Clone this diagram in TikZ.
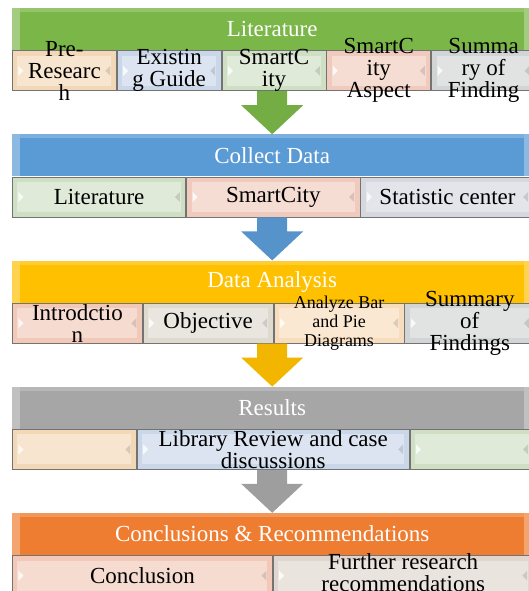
\documentclass[tikz,border=0pt]{standalone}
\usepackage{fontspec}
\setmainfont{Liberation Serif}[Ligatures=TeX]
\newfontfamily\timesfont{Liberation Serif}
\usetikzlibrary{positioning, calc}

\definecolor{green1}{HTML}{7AB648}
\definecolor{blue1}{HTML}{5B9BD5}
\definecolor{gold1}{HTML}{FFC000}
\definecolor{gray1}{HTML}{A6A6A6}
\definecolor{orange1}{HTML}{EE7D31}
\definecolor{peach}{HTML}{F3D8B8}
\definecolor{sky}{HTML}{C9D7E8}
\definecolor{mint}{HTML}{CFDFC4}
\definecolor{rose}{HTML}{F0CBBD}
\definecolor{silver}{HTML}{D2D5D5}
\definecolor{lilac}{HTML}{D6D8E0}
\definecolor{sand}{HTML}{DEDAD0}
\definecolor{apricot}{HTML}{F8DDBC}
\definecolor{blush}{HTML}{F2C9B9}
\definecolor{stone}{HTML}{E0D6CF}

\tikzstyle{header} = [rectangle, minimum width=520pt, minimum height=42pt, inner sep=0pt, text centered, text=white, font=\timesfont\fontsize{23}{22}\selectfont, path picture={
  \fill[white, opacity=0.3] (path picture bounding box.south west) rectangle ([xshift=8pt]path picture bounding box.north west);
  \fill[white, opacity=0.3] ([xshift=-8pt]path picture bounding box.south east) rectangle (path picture bounding box.north east);
  \fill[white, opacity=0.2] ([xshift=8pt,yshift=-4pt]path picture bounding box.north west) rectangle ([xshift=-8pt]path picture bounding box.north east);
}]
\tikzstyle{item} = [rectangle, minimum height=40pt, inner sep=0pt, draw=black!55, line width=0.8pt, path picture={
  \fill[white, opacity=0.35] ([shift={(5pt,5pt)}]path picture bounding box.south west) rectangle ([shift={(-5pt,-5pt)}]path picture bounding box.north east);
  \fill[white, opacity=0.8] ([xshift=6pt,yshift=5pt]path picture bounding box.west) -- ++(5pt,-5pt) -- ++(-5pt,-5pt) -- cycle;
  \fill[black, opacity=0.12] ([xshift=-6pt,yshift=5pt]path picture bounding box.east) -- ++(-5pt,-5pt) -- ++(5pt,-5pt) -- cycle;
}]
\tikzstyle{itemtext} = [align=center, inner sep=0pt, font=\timesfont\fontsize{23}{22}\selectfont]
\tikzstyle{smalltext} = [align=center, inner sep=0pt, font=\timesfont\fontsize{18}{19}\selectfont]
\tikzset{arrowshade/.style={left color=#1!95!black, middle color=#1!50!white, right color=#1!95!black}}

\begin{document}
\begin{tikzpicture}[x=1pt, y=1pt]
\useasboundingbox (0,0) rectangle (529,-591);
\clip (0,0) rectangle (529,-591);

%%%%% ADDING MAIN BLOCKS
\node (lit) [header, fill=green1, anchor=north west] at (12,-8) {Literature};
\node (lit1) [item, fill=peach, minimum width=104pt, below=0pt of lit.south west, anchor=north west] {};
\node (lit2) [item, fill=sky, minimum width=104pt, right=0pt of lit1] {};
\node (lit3) [item, fill=mint, minimum width=104pt, right=0pt of lit2] {};
\node (lit4) [item, fill=rose, minimum width=104pt, right=0pt of lit3] {};
\node (lit5) [item, fill=silver, minimum width=104pt, right=0pt of lit4] {};

\node (col) [header, fill=blue1, below=43pt of lit1.south west, anchor=north west] {Collect Data};
\node (col1) [item, fill=mint, minimum width=173.4pt, below=0pt of col.south west, anchor=north west] {};
\node (col2) [item, fill=rose, minimum width=173.4pt, right=0pt of col1] {};
\node (col3) [item, fill=lilac, minimum width=173.4pt, right=0pt of col2] {};

\node (ana) [header, fill=gold1, below=43pt of col1.south west, anchor=north west] {Data Analysis};
\node (ana1) [item, fill=blush, minimum width=130pt, below=0pt of ana.south west, anchor=north west] {};
\node (ana2) [item, fill=sand, minimum width=130pt, right=0pt of ana1] {};
\node (ana3) [item, fill=apricot, minimum width=130pt, right=0pt of ana2] {};
\node (ana4) [item, fill=silver, minimum width=130pt, right=0pt of ana3] {};

\node (res) [header, fill=gray1, below=43pt of ana1.south west, anchor=north west] {Results};
\node (res1) [item, fill=peach, minimum width=124pt, below=0pt of res.south west, anchor=north west] {};
\node (res2) [item, fill=sky, minimum width=272pt, right=0pt of res1] {};
\node (res3) [item, fill=mint, minimum width=124pt, right=0pt of res2] {};

\node (con) [header, fill=orange1, below=43pt of res1.south west, anchor=north west] {Conclusions \& Recommendations};
\node (con1) [item, fill=blush, minimum width=260pt, below=0pt of con.south west, anchor=north west] {};
\node (con2) [item, fill=stone, minimum width=260pt, right=0pt of con1] {};

%%%%% ADDING ARROWS
% block arrow from the middle of one row down to the next header
\shade[arrowshade=green1] let \p1=(lit.south |- lit1.south), \p2=(col.north) in
  (\x1-15pt,\y1) -- (\x1+15pt,\y1) -- (\x1+15pt,\y2+29pt) -- (\x1+31pt,\y2+29pt) -- (\x2,\y2) -- (\x1-31pt,\y2+29pt) -- (\x1-15pt,\y2+29pt) -- cycle;
\shade[arrowshade=blue1] let \p1=(col.south |- col1.south), \p2=(ana.north) in
  (\x1-15pt,\y1) -- (\x1+15pt,\y1) -- (\x1+15pt,\y2+29pt) -- (\x1+31pt,\y2+29pt) -- (\x2,\y2) -- (\x1-31pt,\y2+29pt) -- (\x1-15pt,\y2+29pt) -- cycle;
\shade[arrowshade=gold1] let \p1=(ana.south |- ana1.south), \p2=(res.north) in
  (\x1-15pt,\y1) -- (\x1+15pt,\y1) -- (\x1+15pt,\y2+29pt) -- (\x1+31pt,\y2+29pt) -- (\x2,\y2) -- (\x1-31pt,\y2+29pt) -- (\x1-15pt,\y2+29pt) -- cycle;
\shade[arrowshade=gray1] let \p1=(res.south |- res1.south), \p2=(con.north) in
  (\x1-15pt,\y1) -- (\x1+15pt,\y1) -- (\x1+15pt,\y2+29pt) -- (\x1+31pt,\y2+29pt) -- (\x2,\y2) -- (\x1-31pt,\y2+29pt) -- (\x1-15pt,\y2+29pt) -- cycle;

%%%%% ADDING TEXTS (drawn last, they run over the box edges)
\node (lit1t) [itemtext] at (lit1) {Pre-\\Researc\\h};
\node (lit2t) [itemtext] at (lit2) {Existin\\g Guide};
\node (lit3t) [itemtext] at (lit3) {SmartC\\ity};
\node (lit4t) [itemtext] at (lit4) {SmartC\\ity\\Aspect};
\node (lit5t) [itemtext] at (lit5) {Summa\\ry of\\Finding};

\node (col1t) [itemtext] at (col1) {Literature};
\node (col2t) [itemtext] at (col2) {SmartCity};
\node (col3t) [itemtext] at (col3) {Statistic center};

\node (ana1t) [itemtext] at (ana1) {Introdctio\\n};
\node (ana2t) [itemtext] at (ana2) {Objective};
\node (ana3t) [smalltext] at (ana3) {Analyze Bar\\and Pie\\Diagrams};
\node (ana4t) [itemtext] at (ana4) {Summary\\of\\Findings};

\node (res2t) [itemtext] at (res2) {Library Review and case\\discussions};

\node (con1t) [itemtext] at (con1) {Conclusion};
\node (con2t) [itemtext, yshift=3pt] at (con2) {Further research\\recommendations};
\end{tikzpicture}
\end{document}
